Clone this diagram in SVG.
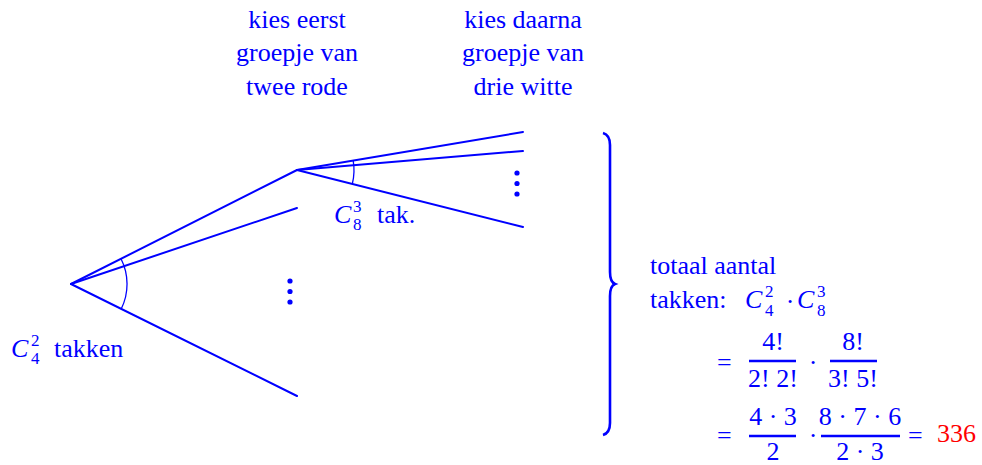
<svg xmlns="http://www.w3.org/2000/svg" width="982" height="465" viewBox="0 0 982 465" font-family="Liberation Serif, Times New Roman, serif">
<style>
text{fill:#0000ff;font-size:26px}
.c{text-anchor:middle}
.i{font-style:italic}
.s{font-size:17px}
.r{fill:#ff0000}
.ln{stroke:#0000ff;stroke-width:2;fill:none;stroke-linecap:round}
.arc{stroke:#0000ff;stroke-width:1.3;fill:none}
.bar{stroke:#0000ff;stroke-width:2.5}
.dot{fill:#0000ff}
</style>
<rect width="982" height="465" fill="#ffffff"/>
<g id="connectors">
<line class="ln" x1="71" y1="284" x2="297" y2="170"/>
<line class="ln" x1="71" y1="284" x2="297" y2="208"/>
<line class="ln" x1="71" y1="284" x2="297" y2="396"/>
<line class="ln" x1="297" y1="170" x2="523" y2="132"/>
<line class="ln" x1="297" y1="170" x2="523" y2="151"/>
<line class="ln" x1="297" y1="170" x2="523" y2="227"/>
<path class="arc" d="M121,258.8 A56,56 0 0 1 121.2,309"/>
<path class="arc" d="M353.2,160.6 A57,57 0 0 1 352.3,184"/>
</g>
<g id="root">
<text class="i" x="11" y="357">C</text>
<text class="s" x="31" y="346">2</text>
<text class="s" x="31" y="364">4</text>
<text x="54" y="357">takken</text>
</g>
<g id="level1-dots">
<circle class="dot" cx="290" cy="281" r="2.6"/>
<circle class="dot" cx="290" cy="291.5" r="2.6"/>
<circle class="dot" cx="290" cy="302" r="2.6"/>
</g>
<g id="level2-dots">
<circle class="dot" cx="517" cy="173" r="2.6"/>
<circle class="dot" cx="517" cy="183.5" r="2.6"/>
<circle class="dot" cx="517" cy="194" r="2.6"/>
</g>
<g id="node-c8">
<text class="i" x="334" y="223">C</text>
<text class="s" x="353" y="212">3</text>
<text class="s" x="353" y="230">8</text>
<text x="377" y="223">tak.</text>
</g>
<g id="header1">
<text class="c" x="297" y="28">kies eerst</text>
<text class="c" x="297" y="61">groepje van</text>
<text class="c" x="297" y="95">twee rode</text>
</g>
<g id="header2">
<text class="c" x="523" y="28">kies daarna</text>
<text class="c" x="523" y="61">groepje van</text>
<text class="c" x="523" y="95">drie witte</text>
</g>
<g id="brace">
<path d="M603,133 Q610,135 610,145 L610,272 Q610,282 615,284 Q610,286 610,296 L610,423 Q610,433 603,435" stroke="#0000ff" stroke-width="2.6" fill="none"/>
</g>
<g id="result">
<text x="650" y="274">totaal aantal</text>
<text x="650" y="308">takken:</text>
<text class="i" x="745" y="308">C</text>
<text class="s" x="765" y="297">2</text>
<text class="s" x="765" y="316">4</text>
<text class="c" x="790" y="310">·</text>
<text class="i" x="797" y="308">C</text>
<text class="s" x="817" y="297">3</text>
<text class="s" x="817" y="316">8</text>

<text x="717" y="371">=</text>
<text class="c" x="773" y="350">4!</text>
<line class="bar" x1="749" y1="361" x2="796" y2="361"/>
<text class="c" x="773" y="387">2! 2!</text>
<text class="c" x="813" y="371">·</text>
<text class="c" x="853" y="350">8!</text>
<line class="bar" x1="830" y1="361" x2="877" y2="361"/>
<text class="c" x="853" y="387">3! 5!</text>

<text x="717" y="444">=</text>
<text class="c" x="773" y="425">4 · 3</text>
<line class="bar" x1="749" y1="436" x2="796" y2="436"/>
<text class="c" x="773" y="460">2</text>
<text class="c" x="813" y="444">·</text>
<text class="c" x="860" y="425">8 · 7 · 6</text>
<line class="bar" x1="821" y1="436" x2="900" y2="436"/>
<text class="c" x="860" y="460">2 · 3</text>
<text x="908" y="444">=</text>
<text class="r" x="937" y="442">336</text>
</g>
</svg>
